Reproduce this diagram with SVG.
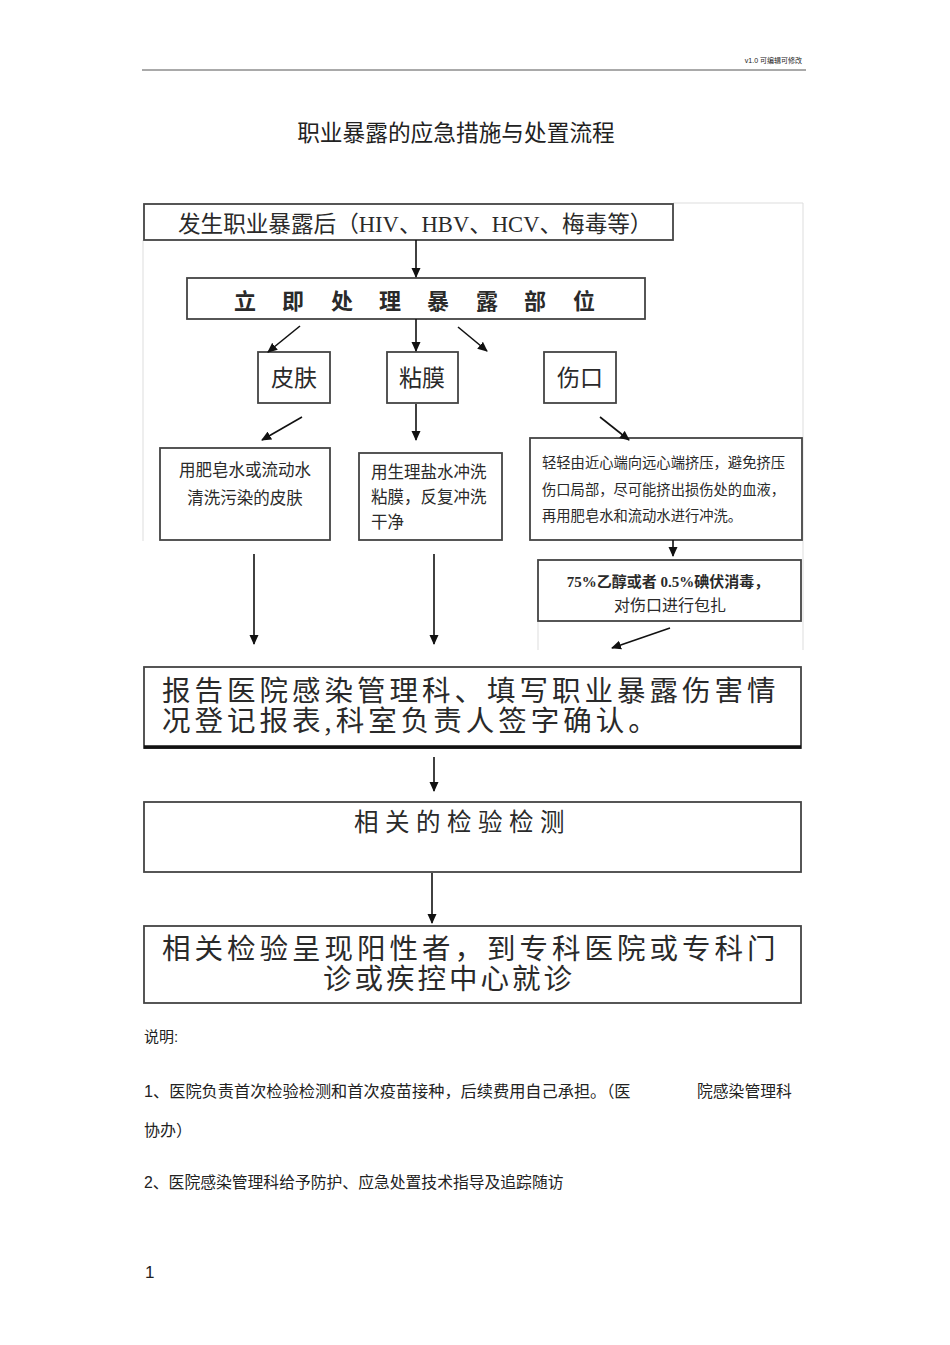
<svg xmlns="http://www.w3.org/2000/svg" width="950" height="1345" viewBox="0 0 950 1345">
<defs>
<marker id="ah" markerUnits="userSpaceOnUse" markerWidth="10" markerHeight="10" viewBox="0 0 10 10" refX="9" refY="5" orient="auto">
<path d="M0,0.5 L10,5 L0,9.5 Z" fill="#111"/>
</marker>
<style>
.bx{fill:#fff;stroke:#444;stroke-width:1.8}
.t{font-family:"Liberation Serif","Noto Sans CJK SC",serif;fill:#2a2a2a}
.s{font-family:"Liberation Sans","Noto Sans CJK SC",sans-serif;fill:#222}
.c{stroke:#111;stroke-width:1.6;fill:none;marker-end:url(#ah)}
.fr{stroke:#ddd;stroke-width:1;fill:none}
</style>
</defs>
<rect width="950" height="1345" fill="#fff"/>
<g id="header">
<line x1="142" y1="70" x2="806" y2="70" stroke="#555" stroke-width="1"/>
<text class="s" x="802" y="63" font-size="7" text-anchor="end" fill="#444">v1.0  可编辑可修改</text>
</g>
<g id="title"><text class="s" x="456" y="141" font-size="22.7" text-anchor="middle">职业暴露的应急措施与处置流程</text></g>
<g id="frame">
<path class="fr" d="M673,203 H803 V650 M143,240 V541 M538,621 V650"/>
</g>
<g id="n1"><rect class="bx" x="144" y="204" width="529" height="36"/>
<text class="t" x="178" y="232" font-size="22.6">发生职业暴露后（HIV、HBV、HCV、梅毒等）</text></g>
<g id="n2"><rect class="bx" x="187" y="278" width="458" height="41"/>
<text class="t" x="234 282 331 379 427 476 524 573" y="309" font-size="22" font-weight="bold">立即处理暴露部位</text></g>
<g id="n3"><rect class="bx" x="258" y="352" width="72" height="51"/>
<text class="t" x="294" y="386" font-size="23" text-anchor="middle">皮肤</text></g>
<g id="n4"><rect class="bx" x="387" y="352" width="71" height="51"/>
<text class="t" x="422" y="386" font-size="23" text-anchor="middle">粘膜</text></g>
<g id="n5"><rect class="bx" x="544" y="352" width="72" height="51"/>
<text class="t" x="580" y="386" font-size="23" text-anchor="middle">伤口</text></g>
<g id="n6"><rect class="bx" x="160" y="448" width="170" height="92"/>
<text class="t" x="245" y="476" font-size="16.5" text-anchor="middle">用肥皂水或流动水</text>
<text class="t" x="245" y="504" font-size="16.5" text-anchor="middle">清洗污染的皮肤</text></g>
<g id="n7"><rect class="bx" x="359" y="453" width="143" height="87"/>
<text class="t" x="371" y="478" font-size="16.5">用生理盐水冲洗</text>
<text class="t" x="371" y="503" font-size="16.5">粘膜，反复冲洗</text>
<text class="t" x="371" y="528" font-size="16.5">干净</text></g>
<g id="n8"><rect class="bx" x="530" y="438" width="272" height="102" stroke-width="2"/>
<text class="t" x="542" y="468" font-size="14.3">轻轻由近心端向远心端挤压，避免挤压</text>
<text class="t" x="542" y="495" font-size="14.3">伤口局部，尽可能挤出损伤处的血液，</text>
<text class="t" x="542" y="521" font-size="14.3">再用肥皂水和流动水进行冲洗。</text></g>
<g id="n9"><rect class="bx" x="538" y="560" width="263" height="61"/>
<text class="t" x="668" y="587" font-size="15" font-weight="bold" text-anchor="middle">75%乙醇或者 0.5%碘伏消毒，</text>
<text class="t" x="670" y="611" font-size="16" text-anchor="middle">对伤口进行包扎</text></g>
<g id="n10"><rect class="bx" x="144" y="667" width="657" height="81" stroke-width="2"/>
<line x1="144" y1="747" x2="801" y2="747" stroke="#111" stroke-width="3.5"/>
<text class="t" x="162" y="701" font-size="28.5" letter-spacing="4">报告医院感染管理科、填写职业暴露伤害情</text>
<text class="t" x="162" y="731" font-size="28.5" letter-spacing="4">况登记报表,科室负责人签字确认。</text></g>
<g id="n11"><rect class="bx" x="144" y="802" width="657" height="70"/>
<text class="t" x="354" y="831" font-size="24.5" letter-spacing="6.5">相关的检验检测</text></g>
<g id="n12"><rect class="bx" x="144" y="926" width="657" height="77"/>
<text class="t" x="162" y="959" font-size="28.5" letter-spacing="4">相关检验呈现阳性者，到专科医院或专科门</text>
<text class="t" x="323" y="989" font-size="28.5" letter-spacing="3">诊或疾控中心就诊</text></g>
<g id="connectors">
<line class="c" x1="416" y1="240" x2="416" y2="277"/>
<line class="c" x1="300" y1="326" x2="268" y2="352"/>
<line class="c" x1="416" y1="319" x2="416" y2="351"/>
<line class="c" x1="458" y1="327" x2="487" y2="351"/>
<line class="c" x1="302" y1="417" x2="262" y2="440"/>
<line class="c" x1="416" y1="404" x2="416" y2="440"/>
<line class="c" x1="600" y1="417" x2="629" y2="440"/>
<line class="c" x1="673" y1="540" x2="673" y2="556"/>
<line class="c" x1="670" y1="628" x2="612" y2="648"/>
<line class="c" x1="254" y1="554" x2="254" y2="644"/>
<line class="c" x1="434" y1="554" x2="434" y2="644"/>
<line class="c" x1="434" y1="757" x2="434" y2="791"/>
<line class="c" x1="432" y1="873" x2="432" y2="923" stroke-width="2.6"/>
</g>
<g id="notes">
<text class="s" x="144" y="1042" font-size="15">说明:</text>
<text class="s" x="144" y="1097" font-size="16.2">1、医院负责首次检验检测和首次疫苗接种，后续费用自己承担。（医</text>
<text class="s" x="697" y="1097" font-size="15.8">院感染管理科</text>
<text class="s" x="144" y="1136" font-size="16">协办）</text>
<text class="s" x="144" y="1188" font-size="15.8">2、医院感染管理科给予防护、应急处置技术指导及追踪随访</text>
</g>
<g id="page"><text class="s" x="145" y="1278" font-size="17">1</text></g>
</svg>
